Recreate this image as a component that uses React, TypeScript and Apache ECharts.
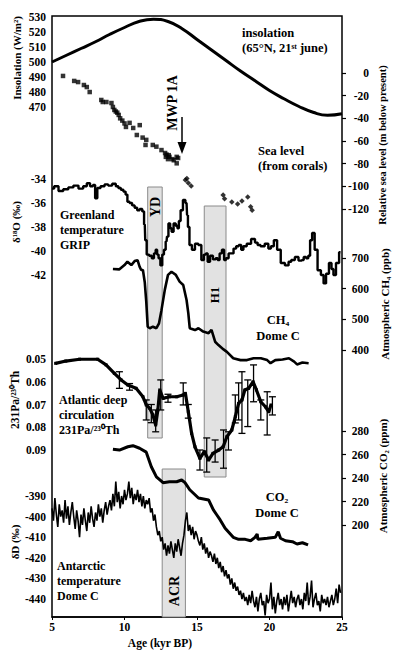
import React, { useEffect, useRef } from "react";
import * as echarts from "echarts";

// ---------- DATA ----------
const ageTicks = [5, 10, 15, 20, 25];

// Insolation 65N 21 June (W/m2)
const insolation: [number, number][] = [
  [5, 500], [6, 504.5], [7, 509], [8, 513.5], [9, 518.5], [10, 523], [11, 527], [12, 528.5],
  [13, 527], [14, 522], [15, 515], [16, 508], [17, 501], [18, 494], [19, 487.5], [20, 481],
  [21, 475.5], [22, 470.5], [23, 466.5], [24, 464.5], [25, 465.5],
];

// Sea level from corals (m below present)
const seaLevelSquares: [number, number][] = [
  [5.76, -2.6], [6.53, -7], [6.8, -8], [7.2, -10.6], [7.4, -12.4], [7.6, -16.8], [8.4, -23.8],
  [8.5, -25.6], [8.75, -25.6], [9.1, -26.5], [9.2, -30], [9.3, -32.6], [9.4, -34], [9.5, -35],
  [9.6, -37], [9.7, -40], [9.85, -42], [10.0, -44.5], [10.1, -47.6], [10.35, -44], [10.6, -48.5],
  [10.85, -54.7], [11.05, -46], [11.25, -57], [11.45, -63.5], [11.5, -59], [11.95, -63.5],
  [12.2, -65], [12.55, -68], [12.8, -70.6], [12.85, -74], [12.9, -72], [13.0, -76], [13.05, -72.5],
  [13.1, -74], [13.3, -76], [13.4, -77], [13.6, -74], [13.6, -79.7], [13.7, -75],
];
const seaLevelDiamonds: [number, number][] = [
  [14.2, -94.4], [14.3, -93], [14.4, -97], [14.6, -99.7], [16.8, -107.6], [16.9, -111],
  [17.4, -113.8], [17.8, -115.6], [18.1, -113], [18.5, -109.4], [18.7, -118], [18.8, -121],
];

// Greenland GRIP d18O (permil)
const gripD18O: [number, number][] = [
  [5.0, -34.8], [5.3, -34.6], [5.6, -35.0], [5.95, -34.85], [6.3, -34.7], [6.65, -34.55], [7.0, -34.8],
  [7.3, -34.6], [7.5, -34.35], [7.75, -34.6], [7.9, -34.5], [8.05, -35.6], [8.2, -34.75], [8.5, -34.6],
  [8.75, -34.45], [9.0, -34.55], [9.3, -34.4], [9.5, -34.6], [9.65, -34.75], [9.85, -34.9], [10.0, -35.05],
  [10.15, -35.3], [10.25, -35.9], [10.45, -36.0], [10.6, -36.2], [10.8, -36.4], [10.95, -36.6],
  [11.15, -36.5], [11.3, -36.7], [11.4, -37.8], [11.46, -39.1], [11.6, -40.3], [11.8, -40.4],
  [11.96, -40.6], [12.1, -40.2], [12.2, -39.9], [12.3, -40.3], [12.4, -40.6], [12.55, -41.2],
  [12.66, -40.3], [12.78, -39.9], [12.9, -39.2], [12.96, -38.8], [13.1, -37.7], [13.2, -38.1],
  [13.3, -38.4], [13.47, -37.7], [13.6, -37.9], [13.7, -38.1], [13.8, -37.5], [13.94, -36.6],
  [14.12, -35.75], [14.28, -36.0], [14.35, -37.0], [14.4, -38.0], [14.56, -39.5], [14.74, -39.9],
  [14.98, -39.4], [15.2, -39.5], [15.4, -40.75], [15.55, -40.3], [15.67, -40.2], [15.8, -40.9],
  [16.0, -40.4], [16.2, -40.7], [16.37, -40.6], [16.48, -40.75], [16.64, -40.2], [16.8, -39.9],
  [16.94, -40.75], [17.06, -40.6], [17.3, -40.2], [17.4, -40.2], [17.64, -39.8], [17.76, -39.6],
  [18.0, -39.5], [18.1, -39.9], [18.3, -39.6], [18.56, -39.4], [18.9, -39.0], [19.1, -39.3],
  [19.26, -39.5], [19.5, -39.6], [19.84, -39.4], [20.0, -39.8], [20.2, -39.6], [20.4, -39.1],
  [20.65, -39.9], [20.9, -41.0], [21.23, -41.2], [21.4, -40.9], [21.6, -40.75], [21.9, -40.5],
  [22.1, -40.8], [22.27, -40.75], [22.45, -40.5], [22.6, -40.6], [22.75, -40.4], [22.85, -39.1],
  [23.03, -38.5], [23.2, -39.9], [23.43, -41.6], [23.66, -42.0], [23.8, -42.7], [24.0, -41.9],
  [24.2, -41.0], [24.35, -41.5], [24.47, -42.0], [24.7, -41.0], [24.9, -40.1],
];

// CH4 Dome C (ppb)
const ch4DomeC: [number, number][] = [
  [9.2, 664], [9.65, 663], [10.0, 677], [10.2, 688], [10.47, 677], [10.7, 690], [10.9, 693],
  [11.04, 672], [11.15, 661], [11.27, 661], [11.4, 620], [11.5, 558], [11.6, 476], [11.75, 471],
  [11.96, 476], [12.2, 471], [12.38, 487], [12.55, 530], [12.78, 596], [13.0, 645], [13.24, 655],
  [13.54, 645], [13.8, 623], [14.05, 612], [14.28, 563], [14.4, 520], [14.5, 471], [14.86, 465],
  [15.1, 471], [15.43, 460], [15.8, 455], [16.0, 466], [16.25, 427], [16.48, 416], [16.83, 402],
  [17.06, 394], [17.5, 373], [18.0, 367], [18.45, 367], [18.9, 373], [19.4, 373], [19.84, 367],
  [20.07, 357], [20.4, 367], [20.9, 369], [21.34, 373], [21.7, 362], [21.9, 353], [22.27, 359],
  [22.7, 357],
];

// Atlantic 231Pa/230Th
const paTh: [number, number][] = [
  [5.25, 0.0519], [5.95, 0.0509], [6.9, 0.0501], [8.15, 0.0501], [8.73, 0.0526], [9.3, 0.0563],
  [9.77, 0.0592], [10.23, 0.0614], [10.8, 0.0629], [11.27, 0.0666], [11.5, 0.0702], [11.74, 0.0717],
  [11.96, 0.0746], [12.15, 0.079], [12.3, 0.0724], [12.43, 0.0636], [12.66, 0.0673], [13.1, 0.0666],
  [13.6, 0.0666], [14.05, 0.0658], [14.2, 0.0651], [14.4, 0.0732], [14.63, 0.0827], [14.86, 0.0886],
  [15.2, 0.0937], [15.5, 0.0907], [15.8, 0.0944], [16.1, 0.0915], [16.5, 0.09], [16.8, 0.0886],
  [17.06, 0.0842], [17.4, 0.0812], [17.64, 0.0754], [17.87, 0.0695], [18.1, 0.068], [18.3, 0.0636],
  [18.56, 0.0629], [18.87, 0.06], [19.1, 0.0636], [19.4, 0.0688], [19.72, 0.071], [19.95, 0.0732],
  [20.1, 0.0702],
];
// error bars: age, low, high
const paThErr: [number, number, number][] = [
  [9.65, 0.0556, 0.0629], [10.35, 0.0608, 0.0637], [11.5, 0.068, 0.0768], [11.85, 0.07, 0.078],
  [12.15, 0.0724, 0.082], [12.5, 0.0592, 0.0724], [13.0, 0.0655, 0.069], [14.05, 0.0605, 0.0702],
  [14.4, 0.07, 0.076], [15.2, 0.09, 0.0988], [15.67, 0.0847, 0.0997], [16.25, 0.0856, 0.0953],
  [16.83, 0.0812, 0.098], [17.17, 0.082, 0.09], [17.64, 0.0658, 0.0781], [17.87, 0.0605, 0.0768],
  [18.1, 0.0556, 0.0827], [18.5, 0.0592, 0.0797], [18.9, 0.0526, 0.0688], [19.4, 0.068, 0.0768],
  [19.84, 0.0644, 0.0834], [20.2, 0.0666, 0.0746],
];

// CO2 Dome C (ppm)
const co2DomeC: [number, number][] = [
  [9.2, 264.4], [9.65, 263.8], [10.23, 266.6], [10.58, 267.5], [11.04, 265.3], [11.5, 262],
  [11.85, 249.6], [12.2, 241], [12.66, 236], [13.1, 236.8], [13.6, 236.8], [13.94, 238.3],
  [14.17, 236], [14.5, 230], [15.1, 223], [15.8, 221.3], [16.13, 212.8], [16.37, 208.5], [16.6, 204.3],
  [16.94, 197.2], [17.5, 189.5], [17.87, 187.8], [18.33, 187.8], [18.7, 186.6], [19.0, 189.5],
  [19.15, 192.3], [19.2, 187.8], [19.84, 188.7], [20.4, 189.5], [20.6, 194.3], [20.76, 188.7],
  [21.1, 186.6], [21.58, 185.8], [21.9, 183.8], [22.27, 184.9], [22.66, 183],
];

// Antarctic dD Dome C (permil), every 0.1 kyr from 5.0 kyr
const dDStartAge = 5.0;
const dDStep = 0.1;
const dDValues = [
  -396, -402, -391, -399, -405, -394, -400, -397, -403, -392,
  -401, -395, -404, -398, -393, -400, -406, -397, -402, -410,
  -399, -404, -396, -402, -407, -398, -403, -395, -401, -405,
  -398, -402, -394, -400, -396, -403, -397, -393, -399, -395,
  -392, -397, -389, -395, -383, -393, -388, -396, -390, -394,
  -387, -392, -389, -383, -391, -386, -394, -389, -392, -387,
  -393, -389, -395, -390, -396, -392, -394, -391, -398, -396,
  -402, -399, -405, -409, -407, -412, -410, -416, -413, -419,
  -414, -418, -412, -416, -420, -413, -417, -411, -415, -419,
  -413, -409, -402, -398, -407, -404, -409, -405, -411, -407,
  -409, -412, -414, -410, -416, -413, -418, -415, -420, -417,
  -419, -422, -418, -423, -420, -425, -422, -427, -424, -429,
  -426, -430, -428, -433, -430, -435, -432, -436, -434, -438,
  -436, -440, -437, -441, -439, -443, -438, -442, -436, -441,
  -444, -439, -446, -440, -437, -443, -441, -448, -438, -442,
  -440, -432, -445, -439, -447, -441, -437, -443, -440, -445,
  -439, -443, -438, -446, -441, -436, -442, -439, -444, -440,
  -438, -443, -440, -445, -437, -441, -432, -443, -439, -431,
  -444, -440, -437, -443, -441, -446, -438, -442, -440, -443,
  -439, -444, -441, -438, -443, -440, -435, -442, -433, -437,
];

// Shaded event intervals (kyr BP)
const ydAges = [11.6, 12.6];
const h1Ages = [15.5, 17.0];
const acrAges = [12.6, 14.2];

// ---------- LAYOUT ----------
const FONT = "'Liberation Serif', 'Times New Roman', serif";
const LEFT = 52;
const WIDTH = 290;
const AGE_MIN = ageTicks[0];
const AGE_MAX = ageTicks[ageTicks.length - 1];
const ageToX = (a: number) => LEFT + ((a - AGE_MIN) / (AGE_MAX - AGE_MIN)) * WIDTH;

type Panel = { top: number; height: number; min: number; max: number; interval: number; side: "left" | "right"; inverse?: boolean; fmt?: (v: number) => string };
const panels: Panel[] = [
  { top: 16, height: 601, min: 0, max: 1, interval: 1, side: "left" }, // frame
  { top: 17, height: 90, min: 470, max: 530, interval: 10, side: "left" }, // insolation
  { top: 73, height: 136, min: -120, max: 0, interval: 20, side: "right" }, // sea level
  { top: 179, height: 96, min: -42, max: -34, interval: 2, side: "left" }, // GRIP
  { top: 258, height: 92, min: 400, max: 700, interval: 100, side: "right" }, // CH4
  { top: 359, height: 91, min: 0.05, max: 0.09, interval: 0.01, side: "left", inverse: true, fmt: (v) => v.toFixed(2) }, // PaTh
  { top: 431, height: 94, min: 200, max: 280, interval: 20, side: "right" }, // CO2
  { top: 496, height: 103, min: -440, max: -390, interval: 10, side: "left" }, // dD
];

function txt(text: string, x: number, y: number, size = 13, align = "left", rot = 0, lineHeight?: number) {
  return {
    type: "text",
    x,
    y,
    z: 20,
    rotation: rot,
    style: {
      text, fill: "#000", fontSize: size, fontWeight: "bold", fontFamily: FONT, align, verticalAlign: "middle",
      lineHeight: lineHeight ?? Math.round(size * 1.2),
    },
  };
}

function box(ages: number[], y1: number, y2: number) {
  const x1 = ageToX(ages[0]);
  const x2 = ageToX(ages[1]);
  return {
    type: "rect",
    z: 1,
    shape: { x: x1, y: y1, width: x2 - x1, height: y2 - y1 },
    style: { fill: "#e2e2e2", stroke: "#8a8a8a", lineWidth: 1 },
  };
}

export default function App() {
  const ref = useRef<HTMLDivElement>(null);
  useEffect(() => {
    const chart = echarts.init(ref.current!, null, { renderer: "svg" });
    const R = Math.PI / 2;

    const grids = panels.map((p, i) => ({
      left: LEFT,
      width: WIDTH,
      top: p.top,
      height: p.height,
      show: i === 0,
      borderColor: "#000",
      borderWidth: 1.5,
      backgroundColor: "transparent",
      containLabel: false,
    }));
    const xAxes = panels.map((_, i) => ({
      type: "value",
      gridIndex: i,
      min: AGE_MIN,
      max: AGE_MAX,
      interval: 5,
      show: i === 0,
      axisLine: { show: true, lineStyle: { color: "#000", width: 1.5 } },
      axisTick: { show: true, length: 3, lineStyle: { color: "#000" } },
      splitLine: { show: false },
      axisLabel: { show: true, margin: 4, color: "#000", fontSize: 11.5, fontWeight: "bold", fontFamily: FONT },
    }));
    const yAxes = panels.map((p, i) => ({
      type: "value",
      gridIndex: i,
      min: p.min,
      max: p.max,
      interval: p.interval,
      inverse: !!p.inverse,
      position: p.side,
      show: i !== 0,
      axisLine: { show: false },
      axisTick: { show: p.side === "right", length: 4, lineStyle: { color: "#000", width: 1.2 } },
      splitLine: { show: false },
      axisLabel: {
        show: true,
        color: "#000",
        fontSize: 11.5,
        fontWeight: "bold",
        fontFamily: FONT,
        align: "right",
        margin: p.side === "right" ? 27 : 6,
        formatter: p.fmt ? (v: number) => p.fmt!(v) : undefined,
      },
    }));

    const line = (idx: number, data: any, width: number, extra: any = {}) => ({
      type: "line",
      xAxisIndex: idx,
      yAxisIndex: idx,
      data,
      showSymbol: false,
      clip: false,
      z: 5,
      lineStyle: { color: "#000", width },
      itemStyle: { color: "#000" },
      ...extra,
    });

    const option: any = {
      animation: false,
      backgroundColor: "#fff",
      grid: grids,
      xAxis: xAxes,
      yAxis: yAxes,
      series: [
        line(1, insolation, 3, { smooth: true }),
        {
          type: "scatter", xAxisIndex: 2, yAxisIndex: 2, data: seaLevelSquares, symbol: "rect",
          symbolSize: 4.5, clip: false, z: 5, itemStyle: { color: "#000" },
        },
        {
          type: "scatter", xAxisIndex: 2, yAxisIndex: 2, data: seaLevelDiamonds, symbol: "diamond",
          symbolSize: 5.5, clip: false, z: 5, itemStyle: { color: "#000" },
        },
        line(3, gripD18O, 2.4, { step: "middle" }),
        line(4, ch4DomeC, 2.6),
        line(5, paTh, 3.2, { showSymbol: true, symbol: "rect", symbolSize: 3 }),
        {
          type: "custom",
          xAxisIndex: 5,
          yAxisIndex: 5,
          data: paThErr,
          clip: false,
          z: 6,
          encode: { x: 0, y: [1, 2] },
          renderItem: (_params: any, api: any) => {
            const a = api.value(0);
            const p1 = api.coord([a, api.value(1)]);
            const p2 = api.coord([a, api.value(2)]);
            const cw = 3.5;
            const st = { stroke: "#000", lineWidth: 1.3 };
            return {
              type: "group",
              children: [
                { type: "line", shape: { x1: p1[0], y1: p1[1], x2: p2[0], y2: p2[1] }, style: st },
                { type: "line", shape: { x1: p1[0] - cw, y1: p1[1], x2: p1[0] + cw, y2: p1[1] }, style: st },
                { type: "line", shape: { x1: p2[0] - cw, y1: p2[1], x2: p2[0] + cw, y2: p2[1] }, style: st },
              ],
            };
          },
        },
        line(6, co2DomeC, 3),
        line(7, dDValues.map((v, i) => [dDStartAge + i * dDStep, v]), 1.6),
      ],
      graphic: [
        box(ydAges, 187, 438),
        box(h1Ages, 206, 477),
        box(acrAges, 469, 617),
        // panel labels
        txt("insolation\n(65°N, 21ˢᵗ june)", 242, 40, 12.5, "left", 0, 15),
        txt("Sea level\n(from corals)", 258, 158.5, 12.5, "left", 0, 15),
        txt("Greenland\ntemperature\nGRIP", 60, 230, 12, "left", 0, 15),
        txt("CH₄\nDome C", 278, 327.5, 12.5, "center", 0, 16),
        txt("Atlantic deep\ncirculation\n231Pa/²³⁰Th", 59, 415, 12, "left", 0, 15),
        txt("CO₂\nDome C", 277, 504.5, 12.5, "center", 0, 16),
        txt("Antarctic\ntemperature\nDome C", 57, 581, 12, "left", 0, 15),
        // event labels
        txt("YD", 155, 207, 14, "center", R),
        txt("H1", 214, 295, 13, "center", R),
        txt("ACR", 174, 591, 14, "center", R),
        txt("MWP 1A", 172, 103, 14, "center", R),
        { type: "line", z: 20, shape: { x1: 182, y1: 117, x2: 182, y2: 146 }, style: { stroke: "#000", lineWidth: 1.5 } },
        { type: "polygon", z: 20, shape: { points: [[177.5, 142], [186.5, 142], [182, 154]] }, style: { fill: "#000" } },
        // axis titles
        txt("Insolation (W/m²)", 17, 58, 11, "center", R),
        txt("δ¹⁸O (‰)", 16, 222, 11, "center", R),
        txt("231Pa/²³⁰Th", 15, 400, 11.5, "center", R),
        txt("δD (‰)", 15, 542, 11, "center", R),
        txt("Relative sea level (m below present)", 382, 145, 10.5, "center", R),
        txt("Atmospheric CH₄ (ppb)", 385, 304, 11, "center", R),
        txt("Atmospheric CO₂ (ppm)", 383, 476, 11, "center", R),
        txt("Age (kyr BP)", 160, 643, 11.5, "center"),
      ],
    };
    chart.setOption(option);
    return () => chart.dispose();
  }, []);
  return (
    <div
      ref={ref}
      style={{ position: "absolute", left: 0, top: 0, width: 397, height: 650, background: "#fff" }}
    />
  );
}
